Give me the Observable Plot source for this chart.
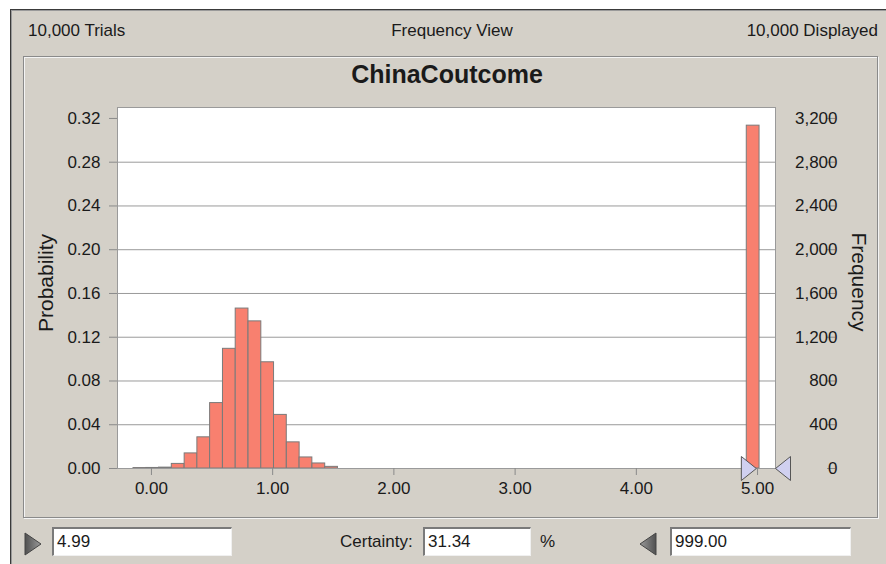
<!DOCTYPE html>
<html><head><meta charset="utf-8">
<script src="https://cdn.jsdelivr.net/npm/d3@7"></script>
<script src="https://cdn.jsdelivr.net/npm/@observablehq/plot@0.6"></script>
<style>
html,body{margin:0;padding:0;background:#fff;width:886px;height:564px;overflow:hidden;font-family:"Liberation Sans",Arial,sans-serif;color:#1a1a1a;}
#win{position:absolute;left:10px;top:9px;width:876px;height:555px;background:#d4d0c8;border-top:1px solid #3a3a3a;border-left:1px solid #3a3a3a;box-shadow:inset 1px 1px 0 #9a9a9a;box-sizing:border-box;}
.t{position:absolute;font-size:17px;white-space:nowrap;line-height:1;}
#panel{position:absolute;left:23px;top:56px;width:855px;height:462px;border:1px solid #8a8a8a;box-shadow:inset 1px 1px 0 #f4f4f4,1px 1px 0 #f4f4f4;box-sizing:border-box;}
#chart{position:absolute;left:0;top:95px;}
.box{position:absolute;background:#fff;border-top:2px solid #7a7a7a;border-left:2px solid #7a7a7a;border-bottom:1px solid #f0f0f0;border-right:1px solid #f0f0f0;box-sizing:border-box;font-size:17px;padding-left:3px;line-height:26px;white-space:nowrap;}
.rot{position:absolute;font-size:21px;line-height:1;white-space:nowrap;}
.tri{position:absolute;}
</style>
</head><body>
<div id="win"></div>
<div class="t" style="left:28px;top:22px;">10,000 Trials</div>
<div class="t" style="left:452px;top:22px;transform:translateX(-50%);">Frequency View</div>
<div class="t" style="right:8px;top:22px;">10,000 Displayed</div>
<div id="panel"></div>
<div class="t" style="left:447px;top:62px;transform:translateX(-50%);font-size:25px;font-weight:bold;">ChinaCoutcome</div>
<div id="chart"></div>
<div class="rot" style="left:45px;top:283px;transform:translate(-50%,-50%) rotate(-90deg);">Probability</div>
<div class="rot" style="left:859px;top:282px;transform:translate(-50%,-50%) rotate(90deg);">Frequency</div>

<svg class="tri" style="left:24px;top:532px;" width="18" height="24"><defs><linearGradient id="g1" x1="0" x2="1"><stop offset="0" stop-color="#505050"/><stop offset="1" stop-color="#9a9a9a"/></linearGradient></defs><polygon points="1,1 17,12 1,23" fill="url(#g1)" stroke="#444" stroke-width="1"/></svg>
<div class="box" id="lowBox" style="left:52px;top:527px;width:180px;height:29px;"></div>
<div class="t" style="left:340px;top:533px;">Certainty:</div>
<div class="box" id="certBox" style="left:423px;top:527px;width:108px;height:29px;"></div>
<div class="t" style="left:540px;top:533px;">%</div>
<svg class="tri" style="left:639px;top:532px;" width="18" height="24"><defs><linearGradient id="g2" x1="0" x2="1"><stop offset="0" stop-color="#9a9a9a"/><stop offset="1" stop-color="#505050"/></linearGradient></defs><polygon points="17,1 1,12 17,23" fill="url(#g2)" stroke="#444" stroke-width="1"/></svg>
<div class="box" id="highBox" style="left:670px;top:527px;width:181px;height:29px;"></div>

<script>
// ---- data ----
const binLo = [-0.148, -0.043, 0.063, 0.168, 0.274, 0.379, 0.484, 0.590, 0.695, 0.801, 0.906, 1.011, 1.117, 1.222, 1.328, 1.433, 4.911];
const binWidth = 0.1054;
const probability = [0.0004, 0.0005, 0.0008, 0.0042, 0.0138, 0.0285, 0.0598, 0.1094, 0.1462, 0.1345, 0.0971, 0.0490, 0.0239, 0.0101, 0.0046, 0.0015, 0.3134];
const probTicks = [0, 0.04, 0.08, 0.12, 0.16, 0.20, 0.24, 0.28, 0.32];
const probTickLabels = ["0.00", "0.04", "0.08", "0.12", "0.16", "0.20", "0.24", "0.28", "0.32"];
const freqTickLabels = ["0", "400", "800", "1,200", "1,600", "2,000", "2,400", "2,800", "3,200"];
const gridTicks = [0.04, 0.08, 0.12, 0.16, 0.20, 0.24, 0.28];
const xTicks = [0, 1, 2, 3, 4, 5];
const xTickLabels = ["0.00", "1.00", "2.00", "3.00", "4.00", "5.00"];
const lowerBound = [4.99];
const upperBound = [999];
const lowerText = "4.99", certaintyText = "31.34", upperText = "999.00";

document.getElementById("lowBox").textContent = lowerText;
document.getElementById("certBox").textContent = certaintyText;
document.getElementById("highBox").textContent = upperText;

const bins = binLo.map((lo, i) => ({x1: lo, x2: lo + binWidth, p: probability[i]}));

const rightTri = {draw(ctx) { ctx.moveTo(-15, -12); ctx.lineTo(0, 0); ctx.lineTo(-15, 12); ctx.closePath(); }};
const leftTri = {draw(ctx) { ctx.moveTo(0, 0); ctx.lineTo(15, -12); ctx.lineTo(15, 12); ctx.closePath(); }};

const chart = Plot.plot({
  width: 886, height: 408,
  marginTop: 12, marginLeft: 117, marginRight: 111, marginBottom: 35,
  style: {background: "transparent", fontFamily: "Liberation Sans, Arial, sans-serif", fontSize: "17px", color: "#1a1a1a", overflow: "visible"},
  x: {domain: [-0.28, 5.148], clamp: true},
  y: {domain: [0, 0.33]},
  marks: [
    Plot.frame({fill: "#fff", stroke: "none"}),
    Plot.ruleY(gridTicks, {stroke: "#9a9a9a", strokeWidth: 1}),
    Plot.rectY(bins, {x1: "x1", x2: "x2", y: "p", fill: "#f8806f", stroke: "#7a7a7a", strokeWidth: 1}),
    Plot.frame({stroke: "#9a9a9a"}),
    Plot.axisY(probTicks, {anchor: "left", tickSize: 8, tickPadding: 9, stroke: "#8a8a8a", label: null,
      tickFormat: d => probTickLabels[probTicks.indexOf(d)]}),
    Plot.axisY(probTicks, {anchor: "right", tickSize: 8, tickPadding: 3, dx: 51, textAnchor: "end", stroke: "#8a8a8a", label: null,
      tickFormat: d => freqTickLabels[probTicks.indexOf(d)]}),
    Plot.axisX(xTicks, {tickSize: 7, tickPadding: 6, stroke: "#8a8a8a", label: null,
      tickFormat: d => xTickLabels[xTicks.indexOf(d)]}),
    Plot.dot(lowerBound, {x: d => d, y: () => 0, symbol: rightTri, fill: "#d0d0f0", stroke: "#555", strokeWidth: 1}),
    Plot.dot(upperBound, {x: d => d, y: () => 0, symbol: leftTri, fill: "#d0d0f0", stroke: "#555", strokeWidth: 1})
  ]
});
document.getElementById("chart").appendChild(chart);
</script>
</body></html>
